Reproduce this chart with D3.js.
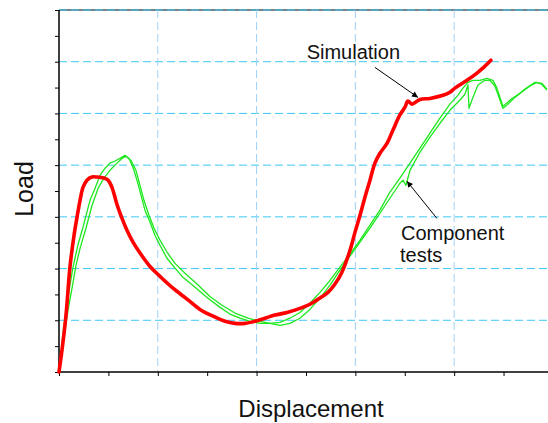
<!DOCTYPE html>
<html lang="en">
<head>
    <meta charset="UTF-8">
    <script src="https://d3js.org/d3.v7.min.js"></script>
</head>
<style>
    body { margin: 0; background: #fff; }
    text { font-family: "Liberation Sans", Arial, sans-serif; fill: #111; }
    .hgrid { stroke: #3cc8f5; stroke-width: 1; stroke-dasharray: 8 4; }
    .vgrid { stroke: #9fd0f8; stroke-width: 1; stroke-dasharray: 8 4; }
    .sim { fill: none; stroke: #ff0000; stroke-width: 3.6; stroke-linejoin: round; stroke-linecap: round; }
    .test { fill: none; stroke: #1de81d; stroke-width: 1.3; stroke-linejoin: round; }
</style>
<body>
<div class="chart"></div>
<script>
    // simulation curve [displacement, load]
    const simulation = [
        [0, 0], [0.3, 4.2], [0.71, 11.0], [1.11, 20.3], [1.52, 26.4], [1.82, 29.9],
        [2.13, 33.2], [2.43, 35.7], [2.83, 37.1], [3.34, 37.7], [3.85, 37.7], [4.55, 37.5],
        [4.96, 37.1], [5.36, 35.7], [5.87, 32.4], [6.38, 29.7], [6.88, 27.4], [7.49, 25.1],
        [8.2, 23.0], [9.21, 20.4], [10.22, 18.5], [11.54, 16.2], [12.96, 14.1], [14.27, 12.1],
        [15.59, 10.8], [16.8, 9.8], [17.81, 9.4], [18.83, 9.4], [19.84, 9.8], [20.85, 10.4],
        [21.86, 11.0], [23.08, 11.5], [24.39, 12.3], [25.4, 13.1], [26.42, 14.3], [27.23, 15.4],
        [27.94, 17.0], [28.64, 19.3], [29.45, 23.5], [29.96, 27.0], [30.47, 30.3], [30.97, 33.8],
        [31.48, 37.1], [31.98, 40.4], [32.49, 42.3], [33.2, 44.2], [33.81, 46.8], [34.51, 49.7],
        [35.02, 51.2], [35.32, 52.4], [35.73, 51.8], [36.54, 52.7], [37.55, 52.9], [38.87, 53.5],
        [39.57, 54.1], [40.08, 54.9], [41.3, 56.4], [42.31, 57.8], [42.81, 58.6], [43.72, 60.3]
    ]

    // component test 1
    const testA = [
        [0, 0], [0.2, 3.2], [0.4, 7.5], [0.71, 11.9], [1.11, 16.8], [1.42, 20.3], [1.92, 24.6],
        [2.43, 28.0], [3.14, 33.2], [3.64, 35.5], [4.15, 38.0], [4.66, 39.4], [5.16, 40.4],
        [5.67, 40.8], [6.17, 41.3], [6.68, 41.9], [7.09, 41.3], [7.49, 39.6], [7.89, 37.1],
        [8.3, 34.2], [8.7, 31.3], [9.21, 29.0], [9.72, 26.4], [10.22, 24.5], [10.93, 22.0],
        [11.74, 20.1], [12.55, 18.3], [13.77, 16.4], [14.98, 14.4], [16.3, 12.5], [17.31, 11.2],
        [18.32, 10.4], [19.33, 9.8], [20.34, 9.4], [21.36, 9.4], [22.37, 9.6], [23.38, 10.4],
        [24.39, 11.5], [25.4, 13.3], [26.42, 15.4], [27.43, 17.7], [28.44, 20.3], [29.45, 22.8],
        [30.47, 25.5], [31.48, 28.4], [32.49, 31.3], [33.5, 34.8], [34.51, 37.5], [35.53, 40.4],
        [36.54, 43.3], [37.55, 46.2], [38.56, 49.1], [39.57, 51.8], [40.38, 53.5], [40.89, 54.9],
        [41.4, 56.0], [41.9, 56.4], [42.61, 56.4], [43.32, 56.8], [43.93, 56.4], [44.33, 54.9],
        [44.64, 53.1], [44.94, 51.4], [45.34, 52.0], [45.85, 52.9], [46.66, 53.9], [47.67, 55.3],
        [48.38, 56.0], [48.89, 55.6], [49.39, 54.5]
    ]

    // component test 2
    const testB = [
        [0, 0], [0.3, 4.2], [0.61, 8.1], [0.91, 11.9], [1.32, 16.2], [1.72, 20.6], [2.13, 23.9],
        [2.73, 27.8], [3.34, 32.2], [3.95, 35.5], [4.55, 37.5], [5.16, 39.0], [5.77, 40.2],
        [6.38, 41.3], [6.78, 41.7], [7.29, 40.9], [7.79, 39.0], [8.2, 36.1], [8.6, 33.2],
        [9.11, 30.3], [9.62, 27.8], [10.22, 25.5], [10.93, 23.2], [11.74, 21.0], [12.75, 19.1],
        [13.97, 17.0], [15.28, 14.6], [16.5, 12.9], [17.81, 11.4], [19.13, 10.4], [20.34, 9.8],
        [21.36, 9.4], [22.37, 9.0], [23.38, 9.4], [24.39, 10.4], [25.4, 12.1], [26.42, 14.3],
        [27.43, 16.8], [28.44, 19.7], [29.45, 22.4], [30.47, 25.1], [31.48, 27.8], [32.49, 30.7],
        [33.5, 33.6], [34.51, 36.5], [34.82, 37.1], [35.12, 36.1], [35.53, 39.0], [36.54, 42.5],
        [37.55, 45.4], [38.56, 48.1], [39.57, 50.6], [40.59, 52.6], [41.09, 53.7], [41.4, 55.5],
        [41.5, 51.0], [41.8, 52.6], [42.41, 55.5], [43.12, 56.4], [43.62, 56.4], [44.13, 55.3],
        [44.64, 52.6], [44.94, 51.0], [45.34, 51.6], [46.15, 53.1], [47.17, 54.7], [48.18, 56.0],
        [48.89, 55.8], [49.39, 54.7]
    ]

    const xMajor = [10, 20, 30, 40]
    const xTicks = [0, 5, 10, 15, 20, 25, 30, 35, 40, 45]
    const yMajor = [10, 20, 30, 40, 50, 60, 70]
    const yTicks = [0, 5, 10, 15, 20, 25, 30, 35, 40, 45, 50, 55, 60, 65, 70]

    const labels = [
        { text: 'Simulation', x: 25.07, y: 60.6 },
        { text: 'Component', x: 34.62, y: 25.5 },
        { text: 'tests', x: 34.52, y: 21.3 }
    ]
    const arrows = [
        { from: [31.98, 58.9], to: [36.34, 53.1] },
        { from: [38.26, 29.7], to: [35.22, 36.9] }
    ]

    const width = 548, height = 423
    const margin = { top: 10, right: 0, bottom: 51, left: 59 }
    const w = width - margin.left - margin.right
    const h = height - margin.top - margin.bottom

    const svg = d3.select('.chart')
        .append('svg')
        .attr('width', width)
        .attr('height', height)

    svg.append('defs').append('marker')
        .attr('id', 'head')
        .attr('viewBox', '0 0 10 10')
        .attr('refX', 10).attr('refY', 5)
        .attr('markerWidth', 8).attr('markerHeight', 6)
        .attr('markerUnits', 'userSpaceOnUse')
        .attr('orient', 'auto')
        .append('path')
        .attr('d', 'M0,0 L10,5 L0,10 z')
        .attr('fill', '#000')

    const g = svg.append('g')
        .attr('transform', `translate(${margin.left},${margin.top})`)

    const x = d3.scaleLinear().domain([0, 49.5]).range([0, w])
    const y = d3.scaleLinear().domain([0, 70]).range([h, 0])

    // top border
    g.append('line')
        .attr('x1', 0).attr('x2', w)
        .attr('y1', 0).attr('y2', 0)
        .attr('stroke', '#4a5a60').attr('stroke-width', 1.5)

    g.selectAll('.hgrid')
        .data(yMajor)
        .enter().append('line')
        .attr('class', 'hgrid')
        .attr('x1', 0).attr('x2', w)
        .attr('y1', d => y(d)).attr('y2', d => y(d))

    g.selectAll('.vgrid')
        .data(xMajor)
        .enter().append('line')
        .attr('class', 'vgrid')
        .attr('x1', d => x(d)).attr('x2', d => x(d))
        .attr('y1', 0).attr('y2', h)

    // axes
    g.append('g')
        .attr('transform', `translate(0,${h})`)
        .call(d3.axisBottom(x).tickValues(xTicks).tickSize(4).tickFormat(''))
        .call(a => a.select('.domain').attr('d', `M0,0H${w}`).attr('stroke-width', 1.5))
    g.append('g')
        .call(d3.axisLeft(y).tickValues(yTicks).tickSize(4).tickFormat(''))
        .call(a => a.select('.domain').attr('d', `M0,${h}V0`).attr('stroke-width', 1.5))

    const line = d3.line().x(d => x(d[0])).y(d => y(d[1]))

    g.append('path').datum(testB).attr('class', 'test').attr('d', line)
    g.append('path').datum(testA).attr('class', 'test').attr('d', line)
    g.append('path').datum(simulation).attr('class', 'sim')
        .attr('d', line.curve(d3.curveCatmullRom))

    g.selectAll('.arrow')
        .data(arrows)
        .enter().append('line')
        .attr('class', 'arrow')
        .attr('x1', d => x(d.from[0])).attr('y1', d => y(d.from[1]))
        .attr('x2', d => x(d.to[0])).attr('y2', d => y(d.to[1]))
        .attr('stroke', '#000').attr('stroke-width', 1)
        .attr('marker-end', 'url(#head)')

    g.selectAll('.note')
        .data(labels)
        .enter().append('text')
        .attr('class', 'note')
        .attr('x', d => x(d.x)).attr('y', d => y(d.y))
        .attr('font-size', 20)
        .text(d => d.text)

    svg.append('text')
        .attr('x', 311).attr('y', 417)
        .attr('text-anchor', 'middle')
        .attr('font-size', 24)
        .text('Displacement')

    svg.append('text')
        .attr('transform', 'translate(33,189) rotate(-90)')
        .attr('text-anchor', 'middle')
        .attr('font-size', 25)
        .text('Load')
</script>
</body>
</html>
